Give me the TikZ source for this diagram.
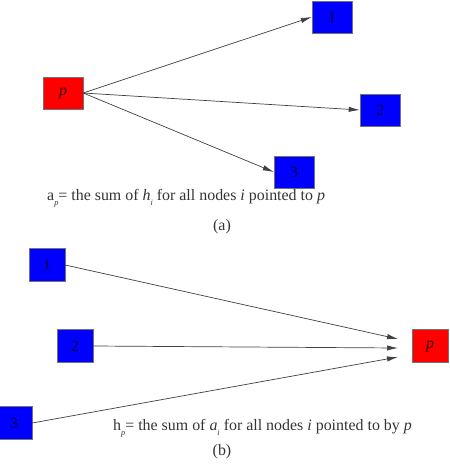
\documentclass[tikz,border=0pt]{standalone}
\usepackage{fontspec}
\setmainfont{Liberation Serif}
\usetikzlibrary{arrows.meta}
\newcommand{\lowsub}[1]{\raisebox{-0.7ex}{\scriptsize\textit{#1}}}
\begin{document}
\begin{tikzpicture}[
    x=0.03cm, y=-0.03cm,
    bvertex/.style={rectangle, draw=black!55, fill=blue, text=blue!25!black, inner sep=0pt,
      minimum width=1.2cm, minimum height=0.96cm, font=\fontsize{13.5}{13.5}\selectfont},
    rvertex/.style={bvertex, fill=red, text=red!20!black, font=\fontsize{13.5}{13.5}\selectfont\itshape},
    link/.style={draw=black!75, line width=0.6pt, -{Latex[length=3.3mm, width=1.6mm]}},
    caption/.style={text=black!80, inner sep=0pt, font=\fontsize{13.6}{15}\selectfont}
  ]
    \useasboundingbox (0,0) rectangle (450,474);
    % (a): p apunta a 1, 2 y 3
    \begin{scope}
      \node[rvertex] (p) at (63,  93) {p};
      \node[bvertex] (a1) at (332, 17)  {1};
      \node[bvertex] (a2) at (380, 110) {2};
      \node[bvertex] (a3) at (294, 172) {3};
      \foreach \t in {a1,a2,a3} {
        \draw[link] (p.east) -- (\t.west);
      }
      \node[caption, anchor=west] (capa) at (47, 198)
        {a\lowsub{p}= the sum of \textit{h}\lowsub{i} for all nodes \textit{i} pointed to \textit{p}};
      \node[caption] (la) at (222, 227) {(a)};
    \end{scope}
    % (b): 1, 2 y 3 apuntan a p
    \begin{scope}[bvertex/.append style={minimum width=1.08cm, minimum height=1.0cm}]
      \node[bvertex] (b1) at (47,  265) {1};
      \node[bvertex] (b2) at (75,  346) {2};
      \node[bvertex] (b3) at (14,  423) {3};
      \node[rvertex] (q) at (430, 346) {p};
      \coordinate (e1) at (398, 339);
      \coordinate (e2) at (398, 348);
      \coordinate (e3) at (398, 357);
      \draw[link] (b1.east) -- (e1);
      \draw[link] (b2.east) -- (e2);
      \draw[link] (b3.east) -- (e3);
      \node[caption, anchor=west] (capb) at (113, 428)
        {h\lowsub{p}= the sum of \textit{a}\lowsub{i} for all nodes \textit{i} pointed to by \textit{p}};
      \node[caption] (lb) at (222, 452) {(b)};
    \end{scope}
\end{tikzpicture}
\end{document}
